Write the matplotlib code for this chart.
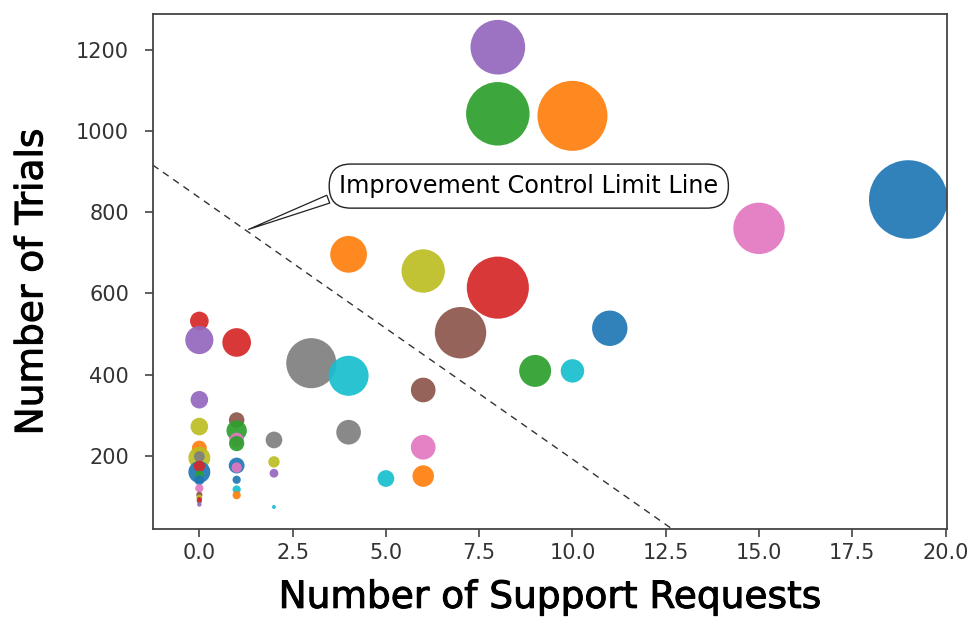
import matplotlib
matplotlib.use('Agg')
import matplotlib.pyplot as plt
import matplotlib.patheffects as pe

# Bubble data: support requests (x), trials (y), bubble size (area, pt^2)
support_requests = [
    19, 10, 8, 8, 15,
    8, 7, 3, 6, 4,
    4, 11, 9, 10, 6,
    4, 6, 6, 5,
    0, 0, 1,
    0, 0, 1, 1, 1, 1,
    2, 2, 2, 2,
    0, 0, 0, 0, 0, 0, 0, 0,
    0, 0, 0, 0, 0,
    1, 1, 1, 1, 1,
]
trials = [
    831, 1037, 1042, 1206, 760,
    614, 503, 428, 655, 696,
    397, 514, 409, 409, 362,
    258, 221, 150, 144,
    532, 485, 479,
    338, 272, 288, 262, 239, 230,
    239, 185, 157, 74,
    219, 195, 198, 160, 174, 152, 140, 120,
    104, 97, 88, 80, 92,
    176, 171, 141, 117, 103,
]
bubble_sizes = [
    3200, 2540, 2090, 1550, 1370,
    2000, 1370, 1300, 975, 700,
    830, 650, 530, 285, 315,
    315, 315, 240, 145,
    180, 410, 425,
    160, 160, 125, 215, 110, 120,
    145, 67, 40, 8,
    115, 250, 60, 250, 65, 45, 50, 35,
    20, 18, 15, 10, 14,
    130, 55, 35, 35, 35,
]
point_colors = [
    'C0', 'C1', 'C2', 'C4', 'C6',
    'C3', 'C5', 'C7', 'C8', 'C1',
    'C9', 'C0', 'C2', 'C9', 'C5',
    'C7', 'C6', 'C1', 'C9',
    'C3', 'C4', 'C3',
    'C4', 'C8', 'C5', 'C2', 'C6', 'C2',
    'C7', 'C8', 'C4', 'C9',
    'C1', 'C8', 'C7', 'C0', 'C3', 'C2', 'C0', 'C6',
    'C5', 'C8', 'C7', 'C4', 'C3',
    'C0', 'C6', 'C0', 'C9', 'C1',
]

# Control limit line end points
limit_x = [-1.25, 12.7]
limit_y = [916, 18]

fig = plt.figure(figsize=(9.71, 6.19), dpi=100)
ax = fig.add_axes([152.7 / 971, 1 - 529.3 / 619, 794 / 971, 515 / 619])

ax.scatter(support_requests, trials, s=bubble_sizes, c=point_colors,
           alpha=0.92, linewidths=0, zorder=2)
ax.plot(limit_x, limit_y, ls=(0, (5, 4)), color='#333333', lw=1.0, zorder=1)

ax.annotate('Improvement Control Limit Line', xy=(1.25, 755), xytext=(8.83, 864),
            fontsize=17.2, family='DejaVu Sans',
            ha='center', va='center',
            bbox=dict(boxstyle='round,pad=0.42,rounding_size=0.9', fc='w', ec='#222222', lw=1),
            arrowprops=dict(arrowstyle='wedge,tail_width=0.35', fc='w', ec='#222222',
                            lw=0.9, relpos=(0.02, 0.25)))

ax.set_xlim(-1.25, 20.03)
ax.set_ylim(19, 1287)
ax.set_xticks([0, 2.5, 5, 7.5, 10, 12.5, 15, 17.5, 20])
ax.set_yticks([200, 400, 600, 800, 1000, 1200])
ax.tick_params(axis='both', length=6, width=1.2, color='#444444',
               labelsize=15, labelcolor='#333333')
ax.tick_params(axis='y', pad=11)
ax.tick_params(axis='x', pad=4)
for sp in ax.spines.values():
    sp.set_color('#444444')
    sp.set_linewidth(1.3)

# a touch heavier than regular weight
thicken = [pe.withStroke(linewidth=0.7, foreground='black')]
ax.set_xlabel('Number of Support Requests', fontsize=27, family='DejaVu Sans',
              labelpad=12, path_effects=thicken)
ax.set_ylabel('Number of Trials', fontsize=27, family='DejaVu Sans',
              path_effects=thicken)
ax.yaxis.set_label_coords(-0.129, 0.48)

fig.savefig('out.png', dpi=100)
